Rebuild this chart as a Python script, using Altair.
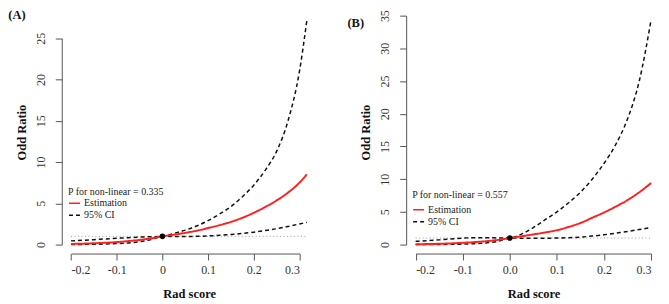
import altair as alt
import pandas as pd

# ---------------- data ----------------
xa = [-0.2, -0.175, -0.15, -0.125, -0.1, -0.075, -0.05, -0.025, 0.0, 0.025, 0.05,
      0.075, 0.1, 0.125, 0.15, 0.175, 0.2, 0.225, 0.25, 0.275, 0.3, 0.316]
est_a = [0.08, 0.11, 0.16, 0.22, 0.3, 0.42, 0.56, 0.75, 1.0, 1.2, 1.42,
         1.68, 2.0, 2.35, 2.75, 3.25, 3.85, 4.55, 5.35, 6.3, 7.5, 8.5]
up_a = [0.45, 0.52, 0.6, 0.68, 0.76, 0.84, 0.9, 0.95, 1.0, 1.35, 1.75,
        2.25, 2.9, 3.7, 4.6, 5.8, 7.2, 9.0, 11.3, 15.0, 21.0, 27.1]
lo_a = [0.015, 0.025, 0.04, 0.07, 0.12, 0.2, 0.35, 0.6, 1.0, 0.99, 0.98,
        1.0, 1.05, 1.12, 1.22, 1.35, 1.5, 1.7, 1.92, 2.2, 2.5, 2.7]

xb = [-0.2, -0.175, -0.15, -0.125, -0.1, -0.075, -0.05, -0.025, 0.0, 0.025, 0.05,
      0.075, 0.1, 0.125, 0.15, 0.175, 0.2, 0.225, 0.25, 0.275, 0.3]
est_b = [0.05, 0.08, 0.12, 0.18, 0.27, 0.38, 0.52, 0.72, 1.0, 1.27, 1.55,
         1.85, 2.2, 2.7, 3.3, 4.1, 4.9, 5.8, 6.8, 8.0, 9.4]
up_b = [0.5, 0.6, 0.72, 0.85, 0.98, 1.05, 1.05, 1.02, 1.0, 1.6, 2.6,
        3.8, 5.0, 6.4, 8.0, 10.0, 12.4, 15.3, 19.2, 25.0, 34.3]
lo_b = [0.005, 0.01, 0.02, 0.04, 0.07, 0.14, 0.26, 0.5, 1.0, 0.98, 0.97,
        0.98, 1.0, 1.05, 1.15, 1.3, 1.5, 1.75, 2.0, 2.3, 2.6]

x_ticks = [-0.2, -0.1, 0.0, 0.1, 0.2, 0.3]
y_ticks_a = [0, 5, 10, 15, 20, 25]
y_ticks_b = [0, 5, 10, 15, 20, 25, 30, 35]
p_text_a = "P for non-linear = 0.335"
p_text_b = "P for non-linear = 0.557"
series_names = ["Estimation", "95% CI"]

FONT = "Liberation Serif"


def long_table(x, est, lo, up):
    rows = []
    for xi, e in zip(x, est):
        rows.append({"x": xi, "y": e, "series": "Estimation", "part": "est"})
    for xi, u in zip(x, up):
        rows.append({"x": xi, "y": u, "series": "95% CI", "part": "upper"})
    for xi, l in zip(x, lo):
        rows.append({"x": xi, "y": l, "series": "95% CI", "part": "lower"})
    return pd.DataFrame(rows)


def make_legend(ptext, lx, ly, tpad, rpad):
    return alt.Legend(title=ptext, orient="none", legendX=lx, legendY=ly,
                      symbolType="stroke", symbolSize=121,
                      symbolStrokeWidth=1.5, labelFontSize=10,
                      titleFontSize=10, titleFontWeight="normal",
                      titleFont=FONT, labelFont=FONT, titlePadding=tpad,
                      rowPadding=rpad, labelOffset=3, padding=0,
                      titleColor="#222", labelColor="#222")


def panel(x, est, lo, up, yticks, ydom, xrange_px, yrange_px, w, h,
          ptext, zero_label, title, tdx, tdy, lx, ly, tpad, rpad):
    df = long_table(x, est, lo, up)
    ref = pd.DataFrame({"x": [x[0], x[-1]], "y": [1.0, 1.0]})
    pt = pd.DataFrame({"x": [0.0], "y": [1.0]})

    if zero_label:
        lab = "datum.value == 0 ? '0' : (datum.value < 0 ? '-' : '') + format(abs(datum.value), '.1f')"
    else:
        lab = "(datum.value < 0 ? '-' : '') + format(abs(datum.value), '.1f')"

    xs = alt.X("x:Q",
               scale=alt.Scale(domain=[-0.2, 0.3], range=xrange_px, nice=False, zero=False),
               axis=alt.Axis(values=x_ticks, labelExpr=lab, title="Rad score",
                             labelBaseline="alphabetic", labelPadding=14,
                             titleX=w / 2, titleY=44.5, titleAlign="center",
                             titleBaseline="alphabetic"))
    ys = alt.Y("y:Q",
               scale=alt.Scale(domain=ydom, range=yrange_px, nice=False, zero=False),
               axis=alt.Axis(values=yticks, format="d", title="Odd Ratio",
                             labelAngle=-90, labelAlign="center", labelBaseline="alphabetic",
                             labelPadding=11,
                             titleX=-36.5, titleY=h / 2, titleAngle=-90,
                             titleAlign="center", titleBaseline="alphabetic"))

    color = alt.Color("series:N",
                      scale=alt.Scale(domain=series_names, range=["#ff2020", "#111111"]),
                      legend=make_legend(ptext, lx, ly, tpad, rpad))
    dash = alt.StrokeDash("series:N",
                          scale=alt.Scale(domain=series_names, range=[[1, 0], [4, 3]]),
                          legend=make_legend(ptext, lx, ly, tpad, rpad))

    base_ref = alt.Chart(ref).mark_line(color="#9a9a9a", strokeDash=[1, 2.5], strokeWidth=1).encode(
        x=xs, y=ys)
    ci = alt.Chart(df).transform_filter(alt.datum.part != "est").mark_line(
        strokeWidth=1.5, interpolate="monotone").encode(
        x=xs, y=ys, color=color, strokeDash=dash, detail="part:N")
    es = alt.Chart(df).transform_filter(alt.datum.part == "est").mark_line(
        strokeWidth=2, interpolate="monotone").encode(
        x=xs, y=ys, color=color, strokeDash=dash)
    dot = alt.Chart(pt).mark_circle(color="black", size=32, opacity=1).encode(x=xs, y=ys)

    return alt.layer(base_ref, ci, es, dot).properties(
        width=w, height=h,
        title=alt.TitleParams(title, anchor="start", frame="group", orient="top",
                              baseline="alphabetic", offset=0, dx=tdx, dy=tdy,
                              fontSize=12.5, font=FONT, fontWeight="bold", color="#111"))


pa = panel(xa, est_a, lo_a, up_a, y_ticks_a, [0, 25], [9.3, 238.8], [235, 27.7], 256, 244,
           p_text_a, True, "(A)", -53.7, 21, 6.3, 177, 0, -7)
pb = panel(xb, est_b, lo_b, up_b, y_ticks_b, [0, 35], [9.5, 246], [235, 5], 256, 244,
           p_text_b, False, "(B)", -59, 29.5, 6, 180, 3.5, -5)

chart = alt.hconcat(pa, pb, spacing=90, bounds="flush").resolve_scale(
    color="independent", strokeDash="independent").resolve_legend(
    color="independent", strokeDash="independent").properties(
    padding=0).configure_view(stroke=None).configure_axis(
    grid=False, domainColor="#555", tickColor="#555", tickSize=6.5, labelFont=FONT,
    labelFontSize=12, labelColor="#333", titleFont=FONT, titleFontSize=12.5,
    titleFontWeight="bold", titleColor="#111", domainWidth=1, tickWidth=1)

chart.save("out.html", embed_options={"renderer": "svg", "actions": False})
